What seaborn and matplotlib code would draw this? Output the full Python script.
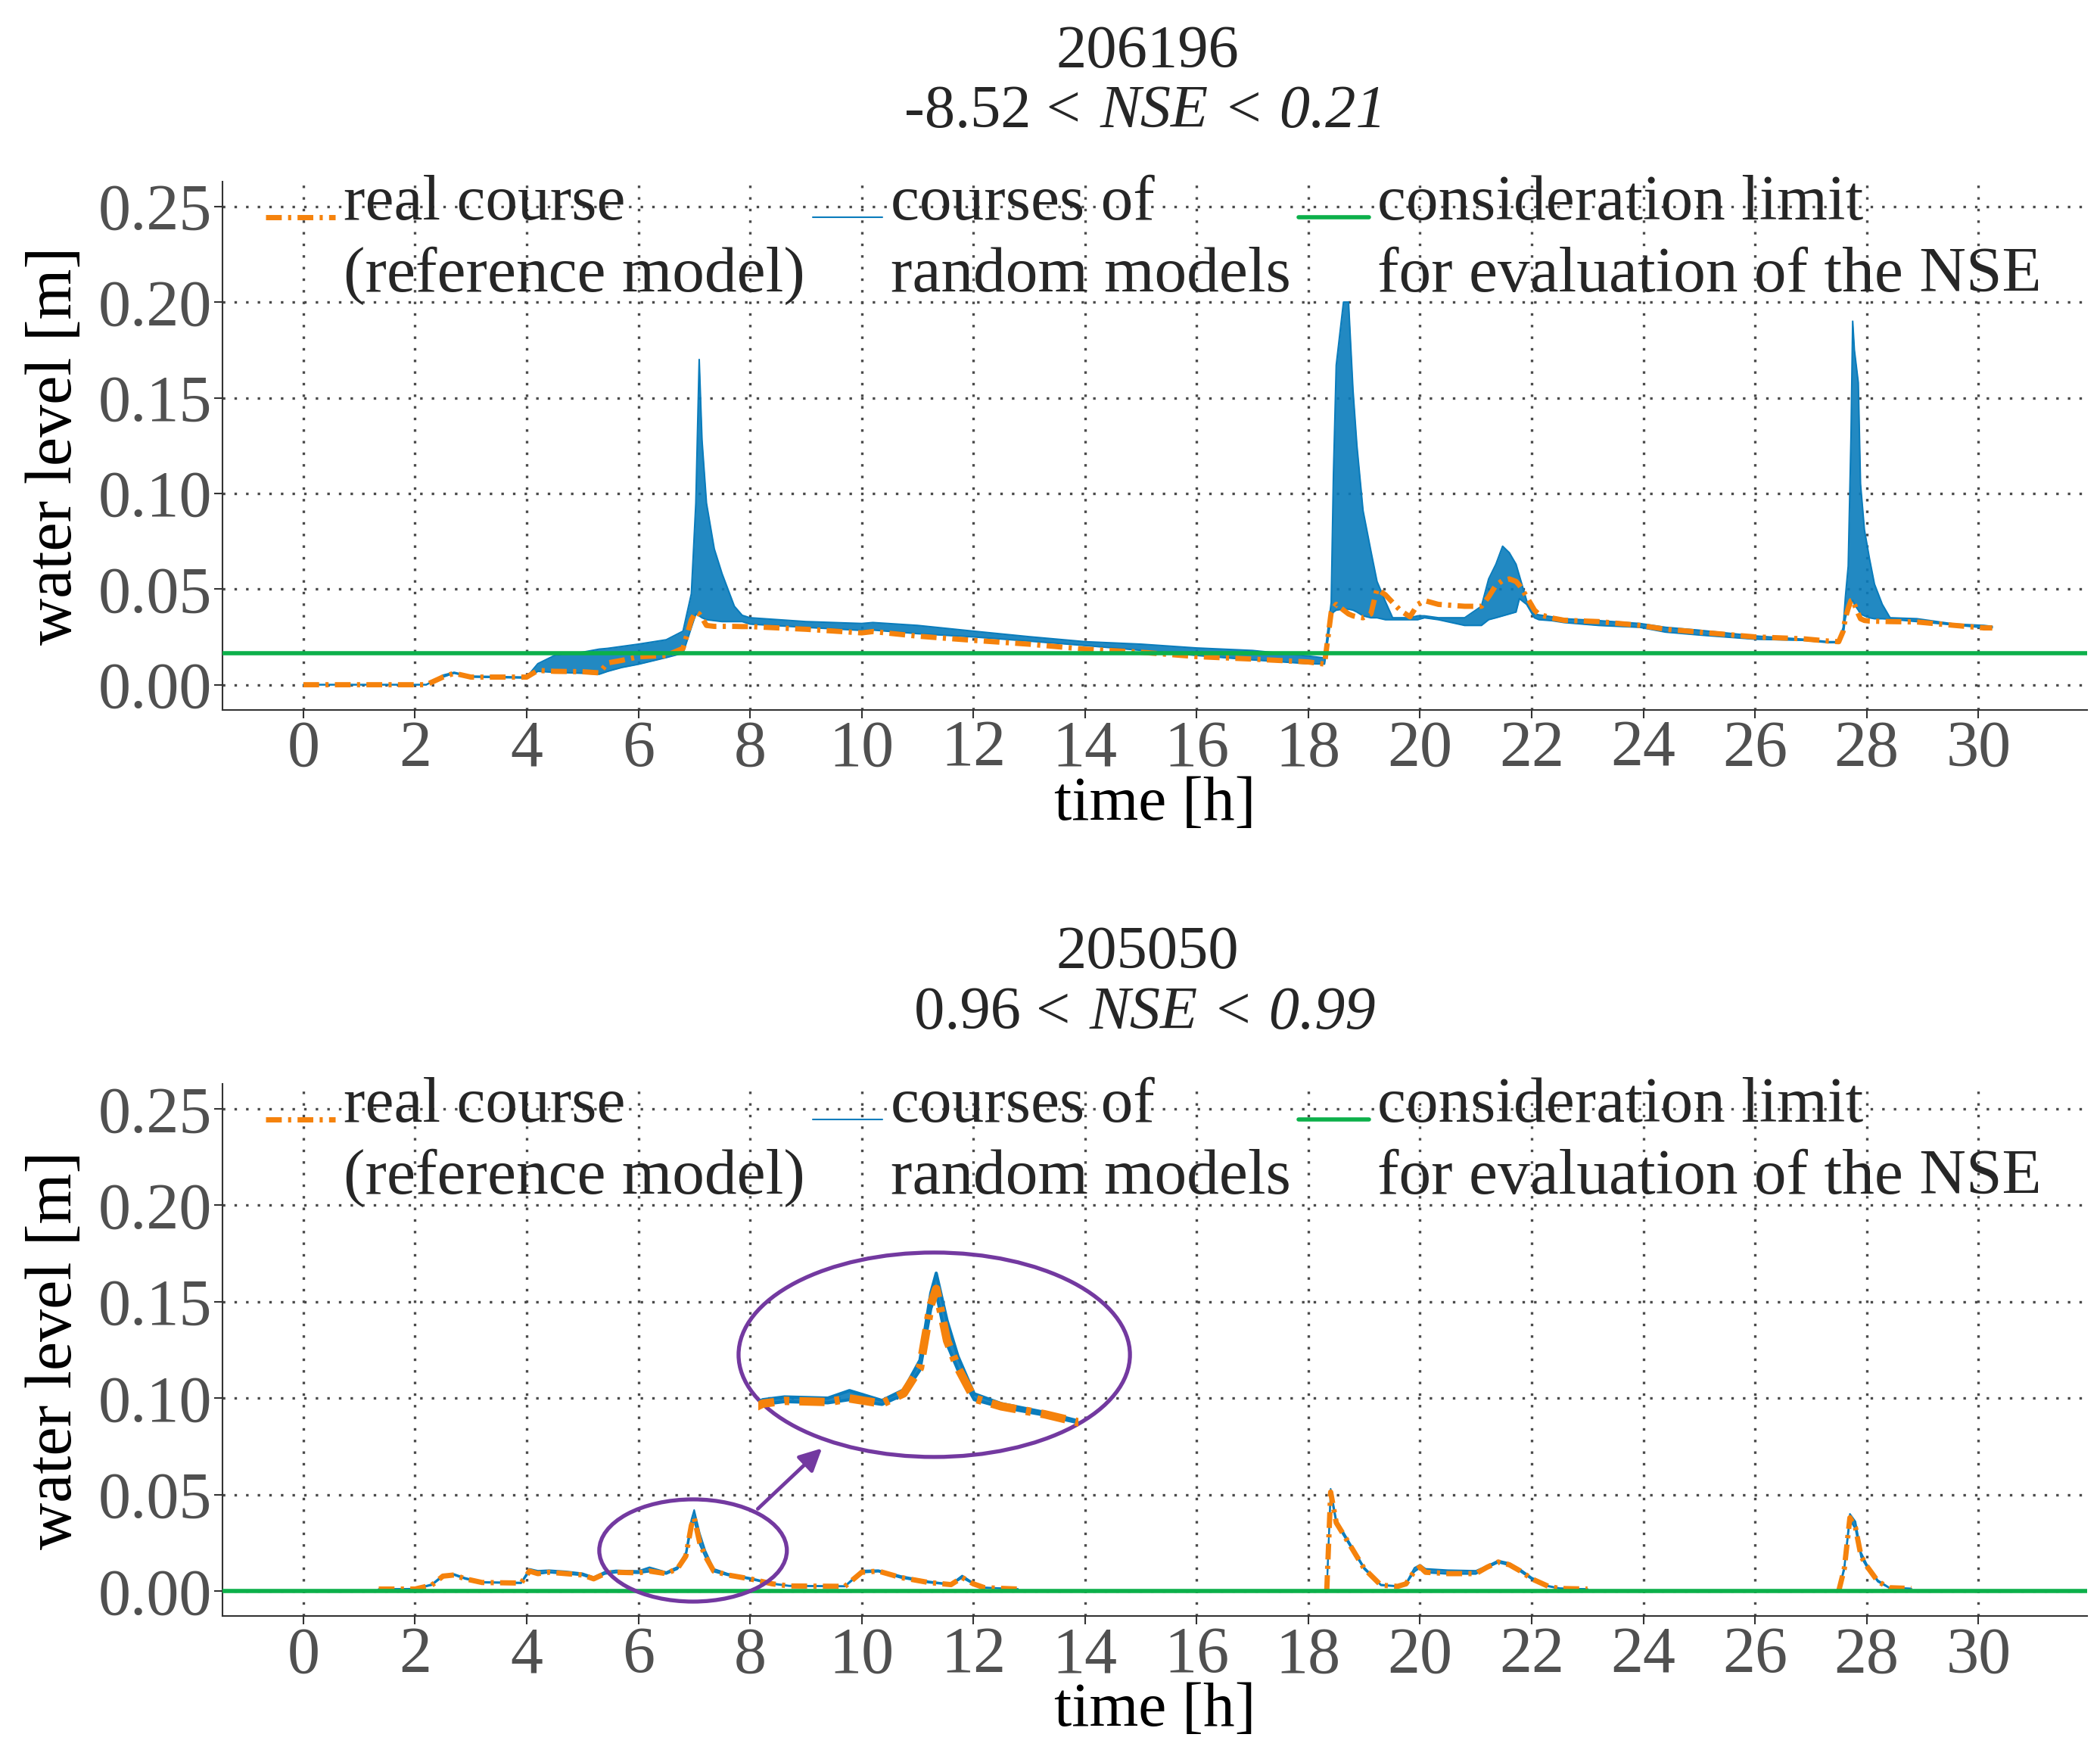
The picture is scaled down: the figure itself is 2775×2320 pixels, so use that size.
import numpy as np
import pandas as pd
import matplotlib
matplotlib.use('Agg')
import matplotlib.pyplot as plt
import seaborn as sns
from matplotlib.lines import Line2D
from matplotlib.patches import Ellipse

# ---------------- data ----------------
# upper panel (206196): time [h], reference model, lower/upper envelope of random models
t_top = [0.0, 2.2, 2.5, 2.7, 3.0, 4.0, 4.2, 4.5, 5.0, 5.3, 5.45, 5.7, 6.0, 6.5, 6.8,
         6.95, 7.03, 7.09, 7.14, 7.22, 7.36, 7.5, 7.72, 7.86, 8.0, 9.0, 10.0, 10.2,
         11.0, 12.0, 13.0, 14.0, 15.0, 16.0, 17.0, 18.0, 18.29, 18.41, 18.45, 18.5,
         18.63, 18.72, 18.8, 18.87, 18.98, 19.12, 19.23, 19.38, 19.51, 19.65, 19.82,
         19.96, 20.08, 20.33, 20.8, 21.1, 21.23, 21.36, 21.48, 21.6, 21.72, 21.78,
         21.91, 22.05, 22.13, 22.36, 22.58, 23.2, 23.94, 24.4, 25.0, 26.0, 26.87,
         27.32, 27.5, 27.58, 27.62, 27.67, 27.72, 27.75, 27.78, 27.85, 27.89, 27.96,
         28.05, 28.14, 28.28, 28.42, 28.9, 29.58, 30.1, 30.25]
ref_top = [0.0, 0.0, 0.004, 0.006, 0.004, 0.004, 0.0075, 0.007, 0.0068, 0.0062, 0.0114,
           0.0127, 0.0146, 0.0153, 0.019, 0.034, 0.038, 0.037, 0.035, 0.031, 0.0305,
           0.0305, 0.0305, 0.0304, 0.0304, 0.029, 0.0271, 0.0278, 0.0254, 0.0232,
           0.0212, 0.0186, 0.017, 0.0147, 0.0134, 0.0119, 0.0108, 0.038, 0.040, 0.042,
           0.039, 0.037, 0.036, 0.0355, 0.035, 0.037, 0.050, 0.047, 0.043, 0.0388,
           0.0355, 0.042, 0.044, 0.042, 0.041, 0.041, 0.046, 0.052, 0.0545, 0.0553,
           0.054, 0.052, 0.046, 0.039, 0.0368, 0.0349, 0.0337, 0.033, 0.031, 0.029,
           0.0275, 0.025, 0.024, 0.0228, 0.0225, 0.028, 0.035, 0.040, 0.044, 0.0444,
           0.042, 0.037, 0.0345, 0.0336, 0.0333, 0.0332, 0.0331, 0.033, 0.0328, 0.031,
           0.0297, 0.0297]
lo_top = [0.0, 0.0, 0.004, 0.006, 0.004, 0.0035, 0.007, 0.0065, 0.006, 0.0055, 0.007,
          0.009, 0.0107, 0.0142, 0.0165, 0.030, 0.037, 0.036, 0.035, 0.034, 0.0335,
          0.033, 0.033, 0.033, 0.0317, 0.030, 0.0284, 0.0286, 0.0267, 0.025, 0.0228,
          0.0205, 0.018, 0.0153, 0.013, 0.011, 0.0108, 0.036, 0.038, 0.039, 0.0395,
          0.0395, 0.039, 0.038, 0.036, 0.035, 0.035, 0.034, 0.034, 0.034, 0.034, 0.034,
          0.035, 0.034, 0.031, 0.031, 0.034, 0.035, 0.036, 0.037, 0.038, 0.045, 0.042,
          0.035, 0.034, 0.0335, 0.0325, 0.031, 0.030, 0.0275, 0.026, 0.0238, 0.0232,
          0.022, 0.022, 0.026, 0.035, 0.040, 0.043, 0.044, 0.042, 0.039, 0.037, 0.036,
          0.035, 0.0345, 0.0345, 0.0343, 0.033, 0.0312, 0.0298, 0.0298]
hi_top = [0.0, 0.0, 0.005, 0.0065, 0.0045, 0.004, 0.011, 0.0153, 0.017, 0.0186, 0.019,
          0.020, 0.0212, 0.0235, 0.028, 0.0476, 0.095, 0.170, 0.128, 0.095, 0.071, 0.058,
          0.041, 0.0363, 0.035, 0.033, 0.032, 0.0325, 0.031, 0.028, 0.0251, 0.0225,
          0.0212, 0.0192, 0.0179, 0.015, 0.014, 0.043, 0.110, 0.167, 0.200, 0.200, 0.154,
          0.125, 0.091, 0.070, 0.054, 0.0435, 0.035, 0.035, 0.035, 0.036, 0.036, 0.035,
          0.035, 0.041, 0.0553, 0.063, 0.0724, 0.069, 0.063, 0.057, 0.044, 0.037, 0.0365,
          0.0355, 0.0345, 0.0335, 0.032, 0.030, 0.0285, 0.0255, 0.0238, 0.0225, 0.0225,
          0.030, 0.046, 0.062, 0.130, 0.190, 0.175, 0.158, 0.105, 0.081, 0.066, 0.0526,
          0.042, 0.035, 0.0345, 0.0317, 0.031, 0.0305]
limit_top = 0.0165

# lower panel (205050): three separate stretches of record
t_bot = [1.35, 2.0, 2.3, 2.5, 2.7, 2.9, 3.2, 3.9, 4.05, 4.2, 4.4, 4.7, 5.0, 5.2, 5.4,
         5.6, 6.0, 6.2, 6.5, 6.7, 6.85, 6.95, 7.0, 7.1, 7.2, 7.35, 7.6, 8.0, 8.4, 8.7,
         9.7, 10.0, 10.3, 10.7, 11.2, 11.6, 11.8, 12.0, 12.2, 12.8,
         18.33, 18.4, 18.5, 18.7, 19.0, 19.3, 19.6, 19.75, 19.9, 20.0, 20.1, 20.5, 21.0,
         21.2, 21.4, 21.6, 21.8, 22.0, 22.3, 22.5, 23.0,
         27.5, 27.6, 27.7, 27.8, 27.9, 28.0, 28.2, 28.4, 28.8]
seg_bot = [1] * 40 + [2] * 21 + [3] * 9
ref_bot = [0.001, 0.001, 0.003, 0.0077, 0.0083, 0.0063, 0.0044, 0.0041, 0.0103, 0.009,
           0.0097, 0.009, 0.0083, 0.0063, 0.009, 0.0097, 0.0094, 0.0103, 0.009, 0.0116,
           0.018, 0.034, 0.038, 0.0249, 0.018, 0.0103, 0.0083, 0.0063, 0.0037, 0.0026,
           0.0024, 0.0097, 0.0103, 0.007, 0.0044, 0.0033, 0.007, 0.0037, 0.0017, 0.001,
           0.0, 0.0513, 0.0354, 0.026, 0.0116, 0.003, 0.0024, 0.0037, 0.0103, 0.0125,
           0.0097, 0.009, 0.009, 0.0123, 0.015, 0.0136, 0.0103, 0.0063, 0.0024, 0.0013,
           0.001,
           0.0, 0.0116, 0.038, 0.0328, 0.018, 0.013, 0.005, 0.0017, 0.0013]
lo_bot = [0.001, 0.001, 0.003, 0.0075, 0.0082, 0.0062, 0.0043, 0.004, 0.010, 0.0088,
          0.0095, 0.0088, 0.0081, 0.0062, 0.0088, 0.0095, 0.0092, 0.010, 0.0088, 0.0113,
          0.0175, 0.033, 0.037, 0.024, 0.0175, 0.010, 0.0081, 0.0061, 0.0036, 0.0025,
          0.0023, 0.0095, 0.010, 0.0068, 0.0043, 0.0032, 0.0068, 0.0036, 0.0016, 0.001,
          0.0, 0.050, 0.035, 0.0255, 0.0113, 0.0029, 0.0023, 0.0036, 0.010, 0.012,
          0.0095, 0.0088, 0.0088, 0.012, 0.0147, 0.0133, 0.010, 0.0061, 0.0023, 0.0012,
          0.001,
          0.0, 0.011, 0.037, 0.032, 0.0175, 0.0125, 0.0048, 0.0016, 0.0012]
hi_bot = [0.001, 0.0012, 0.0035, 0.0083, 0.0088, 0.0068, 0.0047, 0.0044, 0.0115, 0.0105,
          0.0108, 0.0102, 0.0092, 0.0072, 0.010, 0.0107, 0.0104, 0.0123, 0.0098, 0.0125,
          0.020, 0.037, 0.042, 0.030, 0.021, 0.0115, 0.009, 0.0068, 0.004, 0.0028,
          0.0026, 0.0106, 0.0108, 0.0078, 0.005, 0.0036, 0.008, 0.0042, 0.0019, 0.001,
          0.0, 0.053, 0.037, 0.027, 0.0123, 0.0033, 0.0026, 0.004, 0.012, 0.0136,
          0.0115, 0.0108, 0.0105, 0.013, 0.0158, 0.0145, 0.0112, 0.007, 0.0027, 0.0015,
          0.001,
          0.0, 0.013, 0.040, 0.036, 0.020, 0.014, 0.0056, 0.0019, 0.0013]
limit_bot = 0.0

xticks = list(range(0, 31, 2))
yticks = [0.00, 0.05, 0.10, 0.15, 0.20, 0.25]
legend_labels = ['real course\n(reference model)',
                 'courses of\nrandom models',
                 'consideration limit\nfor evaluation of the NSE']

# ---------------- style ----------------
ORANGE = '#f5820c'
BLUE = '#0a7cbc'
GREEN = '#0cb04a'
PURPLE = '#7339a0'
DASH = (0, (3, 1.2, 0.6, 1.2))
FS = 60

sns.set_theme(style='white')
plt.rcParams['font.family'] = ['Liberation Serif', 'DejaVu Serif']

top_df = pd.DataFrame({'t': t_top, 'ref': ref_top, 'lo': lo_top, 'hi': hi_top, 'seg': 1})
bot_df = pd.DataFrame({'t': t_bot, 'ref': ref_bot, 'lo': lo_bot, 'hi': hi_bot, 'seg': seg_bot})


def draw_courses(ax, df, lw_ref=5, lw_blue=1.5):
    for _, part in df.groupby('seg'):
        ax.fill_between(part['t'], part['lo'], part['hi'], color=BLUE, alpha=0.9,
                        lw=0, zorder=2)
    for col in ['lo', 'hi']:
        sns.lineplot(data=df, x='t', y=col, units='seg', estimator=None, ax=ax,
                     color=BLUE, lw=lw_blue, zorder=2.2)
    sns.lineplot(data=df, x='t', y='ref', units='seg', estimator=None, ax=ax,
                 color=ORANGE, lw=lw_ref, linestyle=DASH, zorder=3)
    ax.set_xlabel('')
    ax.set_ylabel('')


def panel(ax, df, limit, station, nse_a, nse_b):
    draw_courses(ax, df)
    ax.axhline(limit, color=GREEN, lw=4, zorder=4)

    ax.set_xlim(-1.45, 31.95)
    ax.set_ylim(-0.013, 0.263)
    ax.set_xticks(xticks)
    ax.set_yticks(yticks)
    ax.set_yticklabels([f'{v:.2f}' for v in yticks])
    ax.set_axisbelow(True)
    ax.grid(True, color='#4a4a4a', lw=2.4, linestyle=(0, (1, 3.6)))
    sns.despine(ax=ax)
    for s in ['left', 'bottom']:
        ax.spines[s].set_color('#333333')
        ax.spines[s].set_linewidth(1.5)
    ax.tick_params(axis='both', labelsize=FS + 2, labelcolor='#505050', length=8,
                   width=1.5, color='#333333', pad=2, bottom=True, left=True)
    ax.set_xlabel('time [h]', fontsize=FS, labelpad=-4, color='black')
    ax.set_ylabel('water level [m]', fontsize=FS + 2, labelpad=12, color='black')

    ax.text(0.496, 1.217, station, transform=ax.transAxes, ha='center',
            va='baseline', fontsize=FS - 2)
    ax.text(nse_a[1], 1.103, nse_a[0], transform=ax.transAxes, ha='right',
            va='baseline', fontsize=FS - 2)
    ax.text(nse_a[1] + 0.002, 1.103, nse_b, transform=ax.transAxes, ha='left',
            va='baseline', fontsize=FS - 2, style='italic')

    handles = [Line2D([], [], color=ORANGE, lw=5, linestyle=DASH),
               Line2D([], [], color=BLUE, lw=1.5),
               Line2D([], [], color=GREEN, lw=4)]
    leg = ax.legend(handles, legend_labels, ncol=3, loc='upper left',
                    bbox_to_anchor=(0.023, 1.013), frameon=False, fontsize=FS + 1.5,
                    handlelength=1.08, handletextpad=0.13, columnspacing=0.12,
                    borderpad=0, borderaxespad=0)
    for txt in leg.get_texts():
        txt.set_linespacing(1.3)
    # put the handle next to the first line of each two-line label
    for h in leg.legend_handles:
        h.set_ydata(np.asarray(h.get_ydata()) + 21)


fig = plt.figure(figsize=(27.75, 23.2), dpi=100)
ax1 = fig.add_axes([0.1059, 0.5959, 0.888, 0.3007])
ax2 = fig.add_axes([0.1059, 0.0797, 0.888, 0.3031])

panel(ax1, top_df, limit_top, '206196', ('-8.52 < ', 0.4686), 'NSE < 0.21')
panel(ax2, bot_df, limit_bot, '205050', ('0.96 < ', 0.4628), 'NSE < 0.99')

# magnified view of the peak around 7 h in the lower panel
ax2.add_patch(Ellipse((6.98, 0.021), 3.36, 0.053, fill=False, ec=PURPLE, lw=3.8, zorder=5))
ax2.add_patch(Ellipse((11.30, 0.1225), 7.01, 0.106, fill=False, ec=PURPLE, lw=3.8, zorder=5))
ax2.annotate('', xy=(9.29, 0.074), xytext=(8.14, 0.0426),
             arrowprops=dict(arrowstyle='-|>', color=PURPLE, lw=3.5,
                             mutation_scale=45, shrinkA=0, shrinkB=0), zorder=5)
ax_in = ax2.inset_axes([8.15, 0.0787, 5.73, 0.0923], transform=ax2.transData)
draw_courses(ax_in, bot_df[bot_df['seg'] == 1], lw_ref=8, lw_blue=3)
ax_in.set_xlim(5.36, 8.31)
ax_in.set_ylim(0, 0.045)
ax_in.axis('off')
ax_in.patch.set_alpha(0)

fig.savefig('out.png', dpi=100)
